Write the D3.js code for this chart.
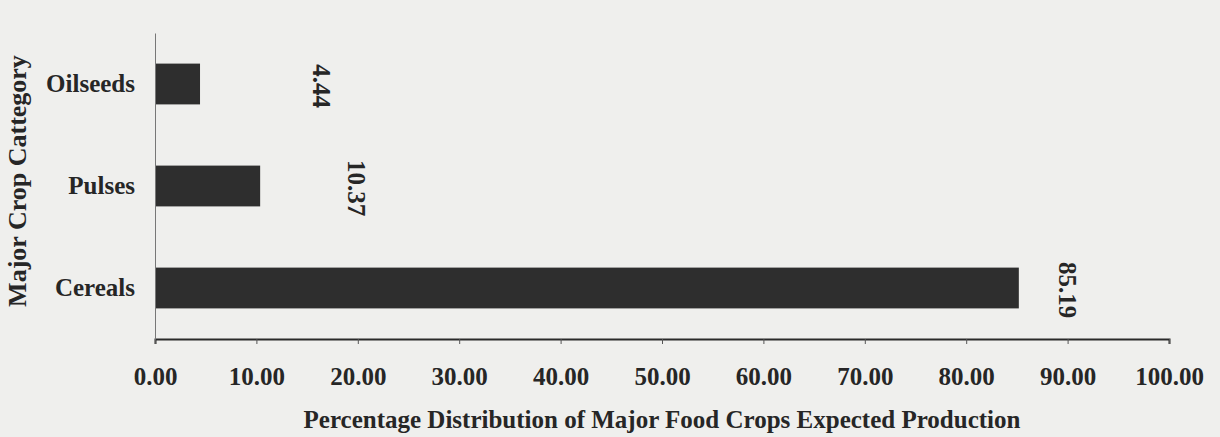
<!DOCTYPE html>
<html><head><meta charset="utf-8">
<script src="https://cdn.jsdelivr.net/npm/d3@7"></script>
<style>
html,body{margin:0;padding:0;background:#efefed;}
svg{display:block;}
text{font-family:"Liberation Serif","Times New Roman",serif;font-weight:bold;fill:#262626;}
</style></head>
<body>
<svg id="chart" width="1220" height="437"></svg>
<script>
const categories = ["Oilseeds", "Pulses", "Cereals"];
const values = [4.44, 10.37, 85.19];
const valueLabels = ["4.44", "10.37", "85.19"];
// where each (rotated) data label sits along the value axis, as in the source
const labelAt = [16.4, 19.9, 90.0];
const xTicks = [0, 10, 20, 30, 40, 50, 60, 70, 80, 90, 100];
const xTitle = "Percentage Distribution of Major Food Crops Expected Production";
const yTitle = "Major Crop Cattegory";

const svg = d3.select("#chart");
const W = 1220, H = 437;
const m = {left:155, right:51, top:33, bottom:98};

svg.append("rect").attr("width", W).attr("height", H).attr("fill", "#efefed");

const x = d3.scaleLinear().domain([0, 100]).range([m.left, W - m.right]);
const y = d3.scaleBand().domain(categories).range([m.top, H - m.bottom]).paddingInner(0.6).paddingOuter(0.3);

// bars
svg.append("g").selectAll("rect").data(categories).join("rect")
  .attr("x", x(0))
  .attr("y", d => y(d))
  .attr("width", (d, i) => x(values[i]) - x(0))
  .attr("height", y.bandwidth())
  .attr("fill", "#2e2e2e");

// x axis
const xAxis = svg.append("g").attr("transform", `translate(0,${H - m.bottom})`)
  .call(d3.axisBottom(x).tickValues(xTicks).tickFormat(d3.format(".2f")).tickSize(5).tickPadding(23));
xAxis.select(".domain").attr("stroke", "#2a2a2a").attr("stroke-width", 2);
xAxis.selectAll(".tick line").attr("stroke", "#555");
xAxis.selectAll(".tick text").style("font-size", "25px").attr("fill", "#262626");

// y axis
const yAxis = svg.append("g").attr("transform", `translate(${m.left},0)`)
  .call(d3.axisLeft(y).tickSize(0).tickPadding(20));
yAxis.select(".domain").attr("stroke", "#777").attr("stroke-width", 1);
yAxis.selectAll(".tick text").style("font-size", "25px").attr("fill", "#262626");

// rotated data labels
svg.append("g").selectAll("text").data(categories).join("text")
  .attr("transform", (d, i) => `translate(${x(labelAt[i])},${y(d) + y.bandwidth() / 2 + 2}) rotate(90)`)
  .attr("text-anchor", "middle")
  .attr("dy", "0.35em")
  .style("font-size", "25px")
  .text((d, i) => valueLabels[i]);

// titles
svg.append("text").attr("x", 662).attr("y", 428).attr("text-anchor", "middle")
  .style("font-size", "25px").text(xTitle);
svg.append("text").attr("transform", `translate(26,181) rotate(-90)`).attr("text-anchor", "middle")
  .style("font-size", "26px").text(yTitle);
</script>
</body></html>
